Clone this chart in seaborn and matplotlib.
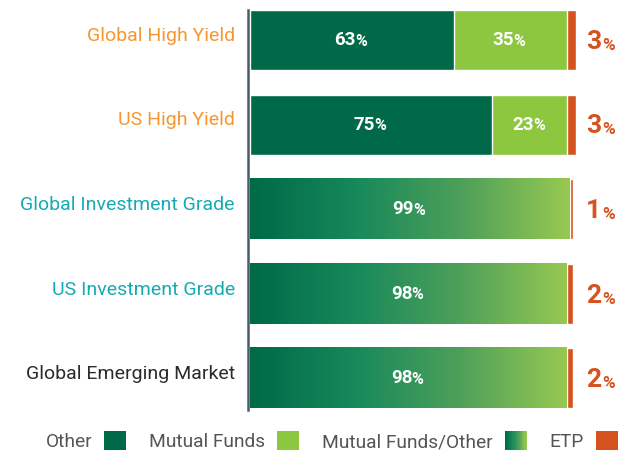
import numpy as np
import pandas as pd
import seaborn as sns
import matplotlib
matplotlib.use("Agg")
from matplotlib import pyplot as plt
from matplotlib.colors import LinearSegmentedColormap
from matplotlib.patches import Rectangle
from matplotlib.legend_handler import HandlerBase

categories = ["Global High Yield", "US High Yield", "Global Investment Grade",
              "US Investment Grade", "Global Emerging Market"]
other = [63, 75, 0, 0, 0]
mutual_funds = [35, 23, 0, 0, 0]
mixed = [0, 0, 99, 98, 98]          # Mutual Funds/Other
etp = [3, 3, 1, 2, 2]
label_colors = ["#f7962e", "#f7962e", "#16aab5", "#16aab5", "#2b2b2b"]

C_OTHER = "#006a48"
C_MF = "#8dc63f"
C_ETP = "#d4531f"
grad_cmap = LinearSegmentedColormap.from_list(
    "mfo", ["#006a48", "#17895a", "#4fa05a", "#97c951"])

sns.set_theme(style="white")
plt.rcParams["font.family"] = ["Roboto", "DejaVu Sans"]

df = pd.DataFrame({"category": categories, "other": other,
                   "mf": mutual_funds, "mixed": mixed, "etp": etp})
df["lvl_green"] = df["other"] + df["mf"] + df["mixed"]
df["lvl_total"] = df["lvl_green"] + df["etp"]

fig = plt.figure(figsize=(6.28, 4.5), dpi=100)
ax = fig.add_axes([248 / 628, 38 / 450, 380 / 628, 412 / 450])

bw = 0.71
sns.barplot(data=df, x="lvl_total", y="category", orient="h", color=C_ETP,
            width=bw, saturation=1, ax=ax)
n0 = len(ax.patches)
sns.barplot(data=df, x="lvl_green", y="category", orient="h", color=C_MF,
            width=bw, saturation=1, ax=ax)
green_patches = ax.patches[n0:]
sns.barplot(data=df, x="other", y="category", orient="h", color=C_OTHER,
            width=bw, saturation=1, ax=ax)

# gradient fill for the combined "Mutual Funds/Other" bars
grad = np.linspace(0, 1, 256).reshape(1, -1)
for p, m in zip(green_patches, df["mixed"]):
    if m > 0:
        x0, y0, w, h = p.get_x(), p.get_y(), p.get_width(), p.get_height()
        ax.imshow(grad, extent=[x0, x0 + w, y0 + h, y0], aspect="auto",
                  cmap=grad_cmap, zorder=p.get_zorder() + 0.1)

ax.set_xlim(-0.6, 117)
ax.set_ylim(4.397, -0.473)


def pct_label(x, y, num, color, size, psize, dx=3):
    t = ax.annotate(str(num), xy=(x, y), xytext=(dx, 0), textcoords="offset points",
                    ha="right", va="center", color=color, fontsize=size,
                    fontweight="bold", zorder=5)
    ax.annotate("%", xy=(1, 0), xycoords=t, xytext=(-0.6, 0.3),
                textcoords="offset points", ha="left", va="bottom",
                color=color, fontsize=psize, fontweight="bold", zorder=5)


for i, row in df.iterrows():
    if row["other"] > 0:
        pct_label(row["other"] / 2, i, row["other"], "white", 13.5, 11.5)
    if row["mf"] > 0:
        pct_label(row["other"] + row["mf"] / 2, i, row["mf"], "white", 13.5, 11.5)
    if row["mixed"] > 0:
        pct_label(row["mixed"] / 2, i, row["mixed"], "white", 13.5, 11.5)
    t = ax.text(104.0, i + 0.02, str(row["etp"]), ha="left", va="center",
                color=C_ETP, fontsize=19, fontweight="bold")
    ax.annotate("%", xy=(1, 0), xycoords=t, xytext=(0.5, 0.6),
                textcoords="offset points", ha="left", va="bottom",
                color=C_ETP, fontsize=12.5, fontweight="bold")

# category names, set a little above the bar centres as in the original
ax.set_yticklabels([])
for i, (cat, c) in enumerate(zip(categories, label_colors)):
    ax.annotate(cat, xy=(0, i), xycoords=ax.get_yaxis_transform(),
                xytext=(-9.4, 3), textcoords="offset points", ha="right",
                va="center", color=c, fontsize=14)

ax.set_xlabel("")
ax.set_ylabel("")
ax.set_xticks([])
ax.tick_params(axis="y", length=0)
for s in ["top", "right", "bottom"]:
    ax.spines[s].set_visible(False)
ax.spines["left"].set_color("#4b5a68")
ax.spines["left"].set_linewidth(1.8)
ax.spines["left"].set_bounds(4.37, -0.355)


class GradientHandler(HandlerBase):
    def create_artists(self, legend, orig_handle, xdescent, ydescent,
                       width, height, fontsize, trans):
        n = 20
        arts = []
        for k in range(n):
            r = Rectangle((-xdescent + width * k / n, -ydescent), width / n + 0.3,
                          height, facecolor=grad_cmap(k / (n - 1)),
                          edgecolor="none", transform=trans)
            arts.append(r)
        return arts


h_other = Rectangle((0, 0), 1, 1, facecolor=C_OTHER, edgecolor="none")
h_mf = Rectangle((0, 0), 1, 1, facecolor=C_MF, edgecolor="none")
h_mix = Rectangle((0, 0), 1, 1, facecolor="none", edgecolor="none")
h_etp = Rectangle((0, 0), 1, 1, facecolor=C_ETP, edgecolor="none")
leg = fig.legend([h_other, h_mf, h_mix, h_etp],
                 ["Other", "Mutual Funds", "Mutual Funds/Other", "ETP"],
                 handler_map={h_mix: GradientHandler()},
                 loc="center right", bbox_to_anchor=(618 / 628, 1 - 441 / 450),
                 ncol=4, frameon=False, markerfirst=False,
                 handlelength=1.15, handleheight=1.15, handletextpad=0.62,
                 columnspacing=1.2, borderpad=0, borderaxespad=0,
                 prop={"size": 13.8})
for t in leg.get_texts():
    t.set_color("#555555")

fig.savefig("out.png", dpi=100, facecolor="white")
